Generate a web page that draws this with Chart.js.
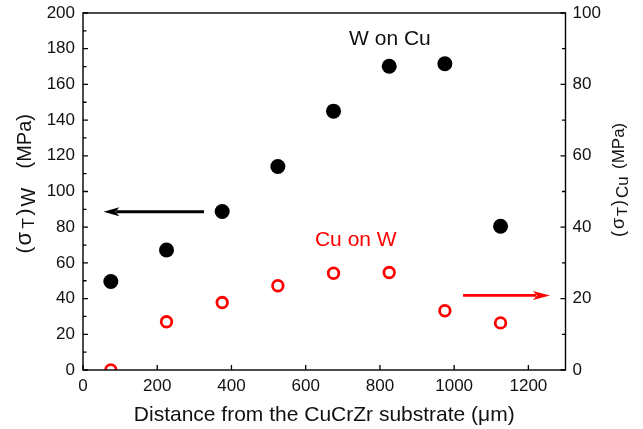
<!DOCTYPE html>
<html>
<head>
<meta charset="utf-8">
<script src="https://cdn.jsdelivr.net/npm/chart.js@4/dist/chart.umd.min.js"></script>
<style>
  html, body { margin: 0; padding: 0; background: #fff; }
  #wrap { width: 643px; height: 429px; }
</style>
</head>
<body>
<div id="wrap"><canvas id="c" width="643" height="429"></canvas></div>
<script>
// ---- data ----
const distances = [75, 225, 375, 525, 675, 825, 975, 1125];          // µm
const stressW   = [49.6, 67.2, 88.8, 114.0, 145.0, 170.2, 171.6, 80.5]; // left axis, MPa
const stressCu  = [0.0, 13.5, 18.9, 23.6, 27.1, 27.3, 16.6, 13.2];   // right axis, MPa
const xTicks  = [0, 200, 400, 600, 800, 1000, 1200];
const yTicks  = [0, 20, 40, 60, 80, 100, 120, 140, 160, 180, 200];
const y2Ticks = [0, 20, 40, 60, 80, 100];
const yMinor  = [10, 30, 50, 70, 90, 110, 130, 150, 170, 190];
const y2Minor = [10, 30, 50, 70, 90];
const arrowW  = { x: [326, 55], y: 88.6 };     // on left axis
const arrowCu = { x: [1024, 1258], y: 20.9 };  // on right axis
const labelW  = { text: 'W on Cu', x: 827, y: 185.5 };
const labelCu = { text: 'Cu on W', x: 735, y: 72.5 };

const FONT = '"Liberation Sans", Arial, sans-serif';
const TXT = '#111';

// parts: {t, size, at (offset from start along text), dy}
function drawRich(ctx, parts, total, cx, cy, rot) {
  ctx.save();
  ctx.translate(cx, cy);
  if (rot) ctx.rotate(rot);
  ctx.textBaseline = 'middle';
  ctx.textAlign = 'left';
  ctx.fillStyle = TXT;
  parts.forEach(p => {
    ctx.font = p.size + 'px ' + FONT;
    ctx.fillText(p.t, -total / 2 + p.at, p.dy || 0);
  });
  ctx.restore();
}

function arrow(ctx, x1, y, x2, color, lw, headLen, headHalf) {
  const dir = Math.sign(x2 - x1);
  ctx.save();
  ctx.strokeStyle = color; ctx.fillStyle = color; ctx.lineWidth = lw;
  ctx.beginPath(); ctx.moveTo(x1, y); ctx.lineTo(x2 - dir * headLen * 0.8, y); ctx.stroke();
  ctx.beginPath();
  ctx.moveTo(x2, y);
  ctx.lineTo(x2 - dir * headLen, y - headHalf);
  ctx.lineTo(x2 - dir * headLen * 0.75, y);
  ctx.lineTo(x2 - dir * headLen, y + headHalf);
  ctx.closePath(); ctx.fill();
  ctx.restore();
}

const decor = {
  id: 'decor',
  afterDatasetsDraw(chart) {
    const { ctx, chartArea: a, scales } = chart;
    const xs = scales.x, ys = scales.y, y2 = scales.y2;
    ctx.save();
    // frame
    ctx.strokeStyle = '#000'; ctx.lineWidth = 1.4;
    ctx.strokeRect(a.left, a.top, a.right - a.left, a.bottom - a.top);
    ctx.lineWidth = 1.3;
    ctx.beginPath();
    xTicks.forEach(v => { const p = xs.getPixelForValue(v); ctx.moveTo(p, a.bottom); ctx.lineTo(p, a.bottom - 5); });
    yTicks.forEach(v => { const p = ys.getPixelForValue(v); ctx.moveTo(a.left, p); ctx.lineTo(a.left + 5, p); });
    yMinor.forEach(v => { const p = ys.getPixelForValue(v); ctx.moveTo(a.left, p); ctx.lineTo(a.left + 3.5, p); });
    y2Ticks.forEach(v => { const p = y2.getPixelForValue(v); ctx.moveTo(a.right, p); ctx.lineTo(a.right - 5, p); });
    y2Minor.forEach(v => { const p = y2.getPixelForValue(v); ctx.moveTo(a.right, p); ctx.lineTo(a.right - 3.5, p); });
    ctx.stroke();
    // arrows
    arrow(ctx, xs.getPixelForValue(arrowW.x[0]), ys.getPixelForValue(arrowW.y), xs.getPixelForValue(arrowW.x[1]), '#000', 3, 16, 4.5);
    arrow(ctx, xs.getPixelForValue(arrowCu.x[0]), y2.getPixelForValue(arrowCu.y), xs.getPixelForValue(arrowCu.x[1]), '#ff0000', 2.6, 17, 4.5);
    // labels
    ctx.textAlign = 'center'; ctx.textBaseline = 'middle';
    ctx.font = '21px ' + FONT;
    ctx.fillStyle = TXT;
    ctx.fillText(labelW.text, xs.getPixelForValue(labelW.x), ys.getPixelForValue(labelW.y));
    ctx.fillStyle = '#ff0000';
    ctx.fillText(labelCu.text, xs.getPixelForValue(labelCu.x), ys.getPixelForValue(labelCu.y));
    // axis titles
    ctx.fillStyle = TXT;
    ctx.font = '21px ' + FONT;
    ctx.fillText('Distance from the CuCrZr substrate (\u03bcm)', (a.left + a.right) / 2, 415);
    drawRich(ctx, [
      { t: '(', size: 21, at: 1 }, { t: '\u03c3', size: 22, at: 9 },
      { t: 'T', size: 17, at: 26, dy: 4 }, { t: ')', size: 21, at: 39 },
      { t: 'W', size: 20, at: 48, dy: 4 }, { t: '(MPa)', size: 20, at: 86 }
    ], 143, 25, 183, -Math.PI / 2);
    drawRich(ctx, [
      { t: '(', size: 18, at: 0 }, { t: '\u03c3', size: 18, at: 8 },
      { t: 'T', size: 15, at: 21, dy: 4 }, { t: ')', size: 18, at: 31 },
      { t: 'Cu', size: 17, at: 39, dy: 4 }, { t: '(MPa)', size: 17, at: 68 }
    ], 114, 619, 180, -Math.PI / 2);
    ctx.restore();
  }
};

const tickFmt = v => String(v);
const noPadX = s => { s.height = 59; s.paddingLeft = 0; s.paddingRight = 0; };
const noPadY = w => s => { s.width = w; s.paddingTop = 0; s.paddingBottom = 0; };

new Chart(document.getElementById('c'), {
  type: 'scatter',
  data: {
    datasets: [
      {
        label: 'W on Cu',
        data: distances.map((d, i) => ({ x: d, y: stressW[i] })),
        yAxisID: 'y',
        pointRadius: 7.5, pointHoverRadius: 7.5,
        backgroundColor: '#000', borderWidth: 0
      },
      {
        label: 'Cu on W',
        data: distances.map((d, i) => ({ x: d, y: stressCu[i] })),
        yAxisID: 'y2',
        pointRadius: 5.3, pointHoverRadius: 5.3,
        backgroundColor: 'rgba(0,0,0,0)', borderColor: '#ff0000', borderWidth: 2.8,
        clip: 0
      }
    ]
  },
  options: {
    responsive: false,
    animation: false,
    layout: { padding: { top: 13, left: 0, right: 0, bottom: 0 } },
    plugins: { legend: { display: false }, tooltip: { enabled: false } },
    scales: {
      x: {
        type: 'linear', min: 0, max: 1300,
        afterBuildTicks: s => { s.ticks = xTicks.map(v => ({ value: v })); },
        afterFit: noPadX,
        grid: { display: false, drawTicks: false }, border: { display: false },
        ticks: { font: { family: FONT, size: 17 }, color: TXT, padding: 6, maxRotation: 0, callback: tickFmt }
      },
      y: {
        position: 'left', min: 0, max: 200,
        afterBuildTicks: s => { s.ticks = yTicks.map(v => ({ value: v })); },
        afterFit: noPadY(83),
        grid: { display: false, drawTicks: false }, border: { display: false },
        ticks: { font: { family: FONT, size: 17 }, color: TXT, padding: 8, callback: tickFmt }
      },
      y2: {
        position: 'right', min: 0, max: 100,
        afterBuildTicks: s => { s.ticks = y2Ticks.map(v => ({ value: v })); },
        afterFit: noPadY(77.5),
        grid: { display: false, drawTicks: false }, border: { display: false },
        ticks: { font: { family: FONT, size: 17 }, color: TXT, padding: 7, callback: tickFmt }
      }
    }
  },
  plugins: [decor]
});
</script>
</body>
</html>
